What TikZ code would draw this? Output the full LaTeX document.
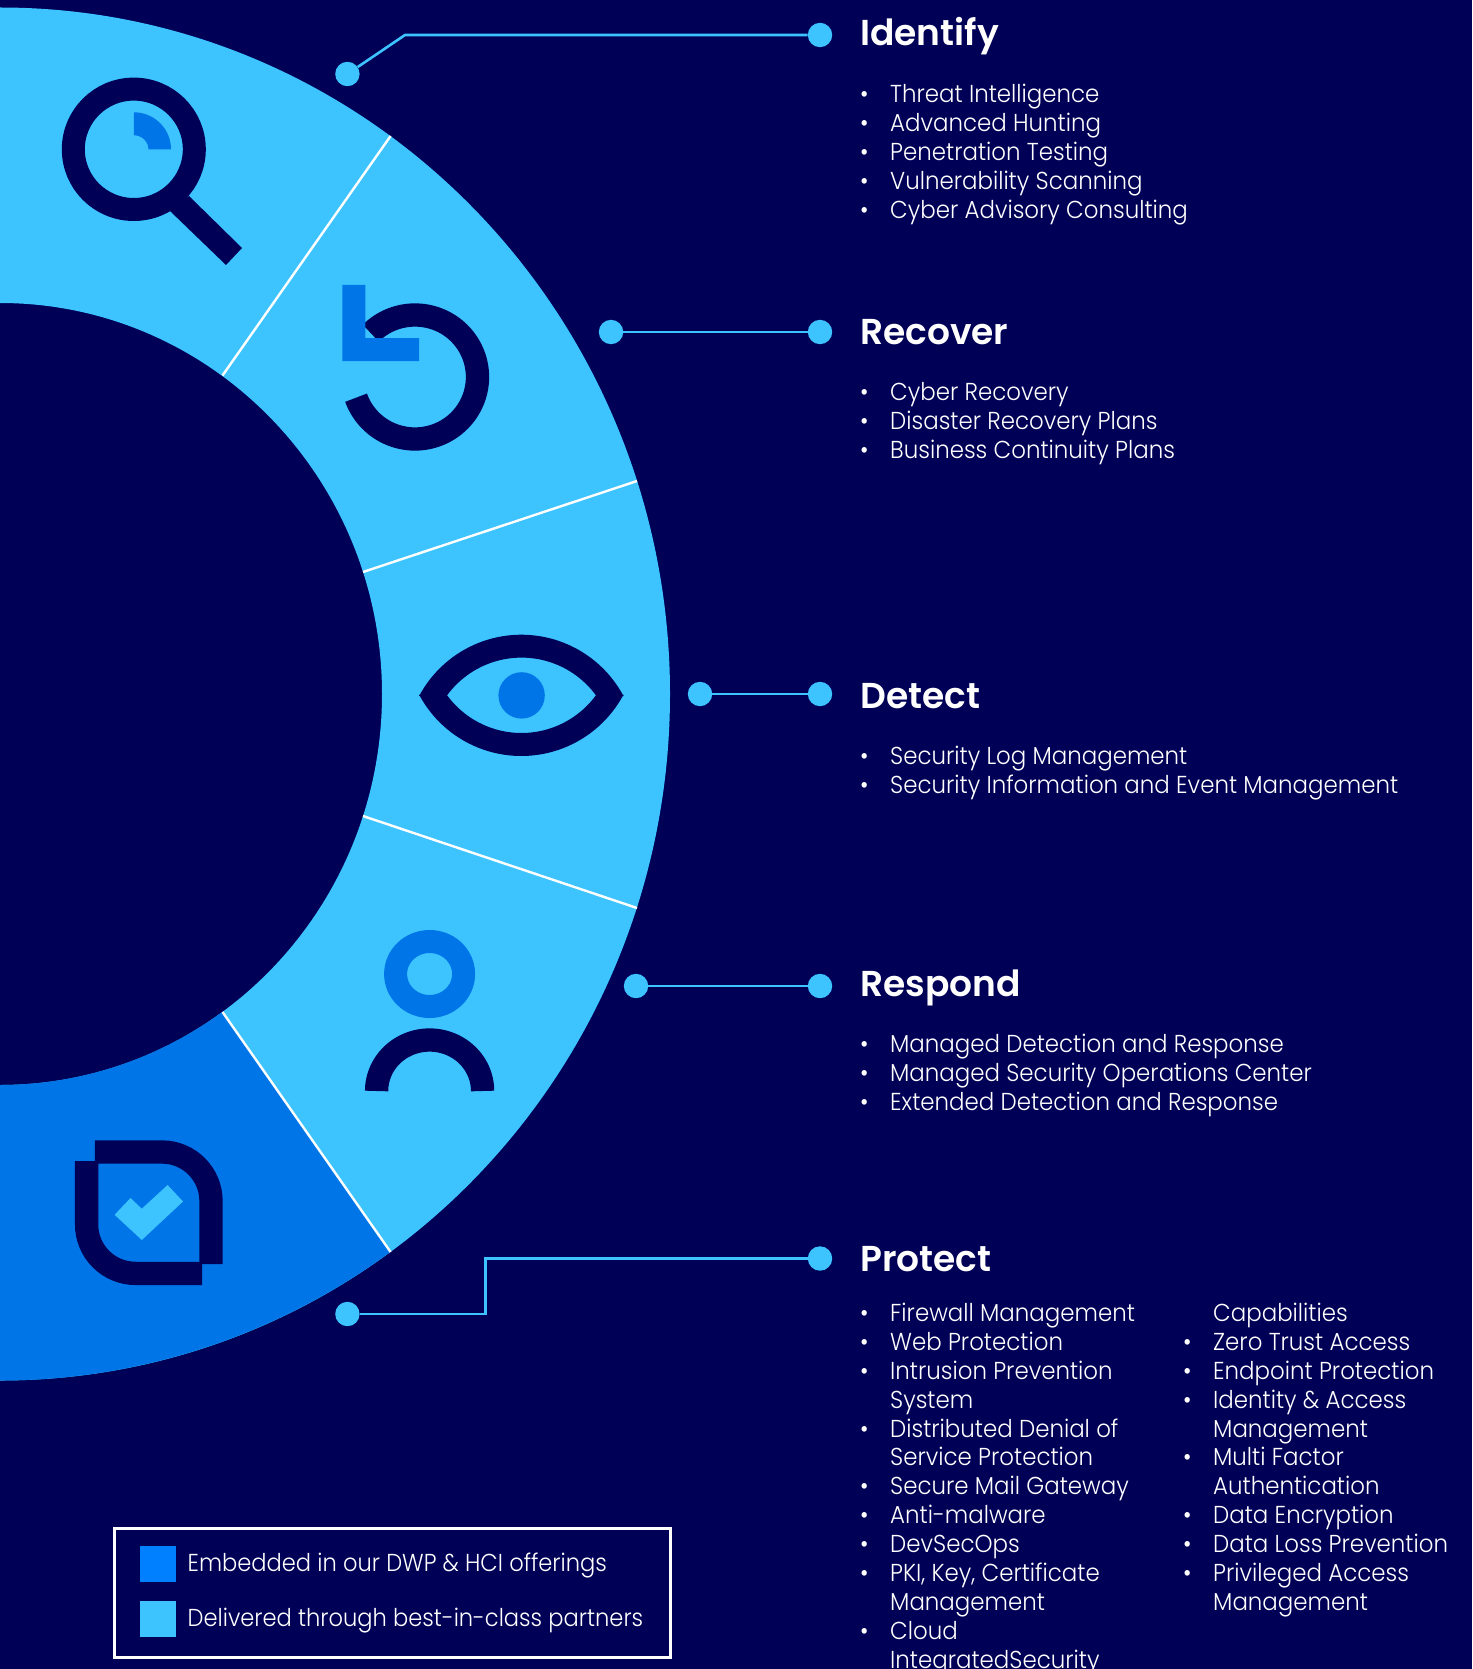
\documentclass[tikz,border=0pt]{standalone}
\usepackage{fontspec}
\usepackage{array}
\setmainfont{Poppins}[UprightFont=* Light,BoldFont=* SemiBold]
\newfontfamily\listfont{Poppins}[UprightFont=* Light,FakeStretch=0.935]
\newfontfamily\legendfont{Poppins}[UprightFont=* Light,FakeStretch=0.922]
\definecolor{navy}{HTML}{000057}
\definecolor{sky}{HTML}{3DC4FF}
\definecolor{azure}{HTML}{0075E8}
\definecolor{legendblue}{HTML}{007FFF}
\tikzset{
  pin/.style={circle,fill=sky,minimum size=24.4pt,inner sep=0pt,draw=none},
  wire/.style={draw=sky,line width=2.6pt},
  divider/.style={draw=white,line width=2.4pt},
  iconline/.style={draw=navy,line width=23.3pt},
  title/.style={anchor=base west,inner sep=0pt,text=white,font=\fontsize{36}{40}\selectfont\bfseries},
  listing/.style={anchor=north west,inner sep=0pt,text=white,font=\fontsize{24.5}{28.9}\selectfont\listfont},
  legendtext/.style={anchor=base west,inner sep=0pt,text=white,font=\fontsize{24.5}{28.9}\selectfont\legendfont},
}
\newcolumntype{B}{@{}p{30pt}@{}l@{}}
\newcommand{\bl}{•}
\begin{document}
\begin{tikzpicture}[x=1pt,y=-1pt]
\useasboundingbox (0,0) rectangle (1472,1669);
\clip (0,0) rectangle (1472,1669);
\fill[navy] (0,0) rectangle (1472,1669);
% ring
\fill[sky,even odd rule] (0,694) ellipse [x radius=670pt,y radius=686.5pt] (0,694) ellipse [x radius=382pt,y radius=391pt];
\fill[azure] plot[domain=54.3:90,samples=50,variable=\t] ({670*cos(\t)},{694+686.5*sin(\t)}) -- plot[domain=90:54.3,samples=50,variable=\t] ({382*cos(\t)},{694+391*sin(\t)}) -- cycle;
\coordinate (o1) at (390.6,136);
\coordinate (i1) at (222.5,375.5);
\coordinate (o2) at (637,481);
\coordinate (i2) at (363,572);
\coordinate (o3) at (637,908);
\coordinate (i3) at (363,816);
\coordinate (o4) at (390.6,1252);
\coordinate (i4) at (222.5,1012);
\draw[divider] (i1)--(o1) (i2)--(o2) (i3)--(o3) (i4)--(o4);
% magnifier
\draw[navy,line width=23pt] (133.8,149.3) ellipse [x radius=60.5pt,y radius=60.2pt];
\fill[navy] (189,196) -- (170,211) -- (226,265) -- (242,248) -- cycle;
\fill[azure] plot[domain=-90:0,samples=30,variable=\t] ({133.8+37.2*cos(\t)},{149.3+37*sin(\t)}) -- plot[domain=0:-90,samples=20,variable=\t] ({133.8+14.6*cos(\t)},{149.3+14*sin(\t)}) -- cycle;
% recover
\draw[iconline] plot[domain=160.5:-135,samples=120,variable=\t] ({415+62.5*cos(\t)},{377+62*sin(\t)});
\fill[azure] (342.3,285) -- (365.3,285) -- (365.3,338) -- (419,338) -- (419,361) -- (342.3,361) -- cycle;
% eye
\fill[navy,even odd rule] plot[domain=208:332,samples=50,variable=\t] ({521.3+115.8*cos(\t)},{750.5+115.8*sin(\t)}) -- plot[domain=28:152,samples=50,variable=\t] ({521.3+115.8*cos(\t)},{640.2+115.8*sin(\t)}) -- cycle
 plot[domain=216.2:323.8,samples=50,variable=\t] ({521.5+92.3*cos(\t)},{749.9+92.3*sin(\t)}) -- plot[domain=36.2:143.8,samples=50,variable=\t] ({521.5+92.3*cos(\t)},{640.7+92.3*sin(\t)}) -- cycle;
\fill[azure] (521.6,695.4) circle [radius=23.2];
% person
\draw[azure,line width=23pt] (429.6,974) ellipse [x radius=34pt,y radius=32.5pt];
\draw[iconline] plot[domain=180:360,samples=60,variable=\t] ({429.6+53*cos(\t)},{1091+51*sin(\t)});
% shield
\draw[iconline,rounded corners=49pt] (94.8,1152) -- (211,1152) -- (211,1264);
\draw[iconline,rounded corners=49pt] (86.6,1161) -- (86.6,1273.4) -- (202,1273.4);
\fill[sky] (114.6,1214.8) -- (130.5,1198) -- (141.8,1208.7) -- (167.6,1185) -- (183,1201.5) -- (141.8,1240) -- cycle;
% pins and wires
\node[pin] (a1) at (347.4,74) {};
\node[pin] (b1) at (820,35) {};
\coordinate (k1) at (405,35);
\node[pin] (a2) at (611,332) {};
\node[pin] (b2) at (820,332) {};
\node[pin] (a3) at (700,694) {};
\node[pin] (b3) at (820,694) {};
\node[pin] (a4) at (636,986) {};
\node[pin] (b4) at (820,986) {};
\node[pin] (a5) at (347.4,1314) {};
\node[pin] (b5) at (820,1258.5) {};
\coordinate (k5a) at (485.4,1314);
\coordinate (k5b) at (485.4,1258.5);
\draw[wire] (a1) -- (k1) -- (b1);
\draw[wire] (a2) -- (b2);
\draw[wire] (a3) -- (b3);
\draw[wire] (a4) -- (b4);
\draw[wire] (a5) -- (k5a) -- (k5b) -- (b5);
% texts
\node[title] (t1) at (860,46) {Identify};
\node[listing] (l1) at (860,82) {\begin{tabular}{B}
\bl & Threat Intelligence\\
\bl & Advanced Hunting\\
\bl & Penetration Testing\\
\bl & Vulnerability Scanning\\
\bl & Cyber Advisory Consulting
\end{tabular}};
\node[title] (t2) at (860,344) {Recover};
\node[listing] (l2) at (860,380) {\begin{tabular}{B}
\bl & Cyber Recovery\\
\bl & Disaster Recovery Plans\\
\bl & Business Continuity Plans
\end{tabular}};
\node[title] (t3) at (860,708) {Detect};
\node[listing] (l3) at (860,744) {\begin{tabular}{B}
\bl & Security Log Management\\
\bl & Security Information and Event Management
\end{tabular}};
\node[title] (t4) at (860,996) {Respond};
\node[listing] (l4) at (860,1032) {\begin{tabular}{B}
\bl & Managed Detection and Response\\
\bl & Managed Security Operations Center\\
\bl & Extended Detection and Response
\end{tabular}};
\node[title] (t5) at (860,1271) {Protect};
\node[listing] (l5) at (860,1301) {\begin{tabular}{B}
\bl & Firewall Management\\
\bl & Web Protection\\
\bl & Intrusion Prevention\\
 & System\\
\bl & Distributed Denial of\\
 & Service Protection\\
\bl & Secure Mail Gateway\\
\bl & Anti-malware\\
\bl & DevSecOps\\
\bl & PKI, Key, Certificate\\
 & Management\\
\bl & Cloud\\
 & IntegratedSecurity
\end{tabular}};
\node[listing] (l6) at (1183,1301) {\begin{tabular}{B}
 & Capabilities\\
\bl & Zero Trust Access\\
\bl & Endpoint Protection\\
\bl & Identity \& Access\\
 & Management\\
\bl & Multi Factor\\
 & Authentication\\
\bl & Data Encryption\\
\bl & Data Loss Prevention\\
\bl & Privileged Access\\
 & Management
\end{tabular}};
% legend
\draw[white,line width=2.6pt] (114.5,1528.3) rectangle (670.2,1657.3);
\fill[legendblue] (140.2,1546) rectangle (176,1581.7);
\fill[sky] (140.2,1601) rectangle (176,1636.7);
\node[legendtext] (g1) at (187.5,1571) {Embedded in our DWP \& HCI offerings};
\node[legendtext] (g2) at (187.5,1626) {Delivered through best-in-class partners};
\end{tikzpicture}
\end{document}
